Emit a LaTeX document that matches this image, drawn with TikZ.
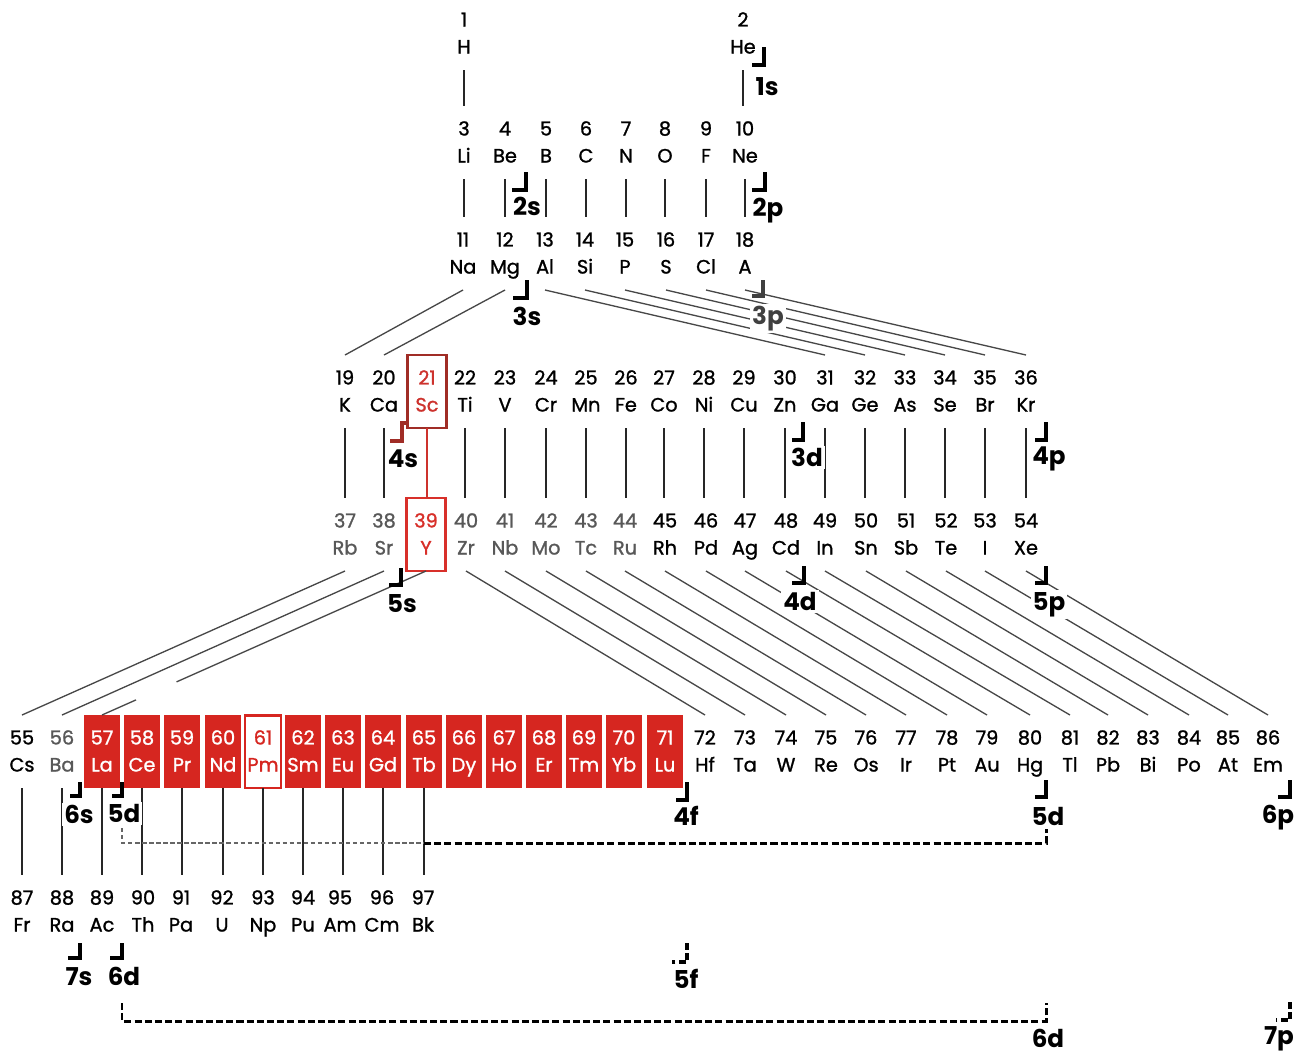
\documentclass[tikz,border=0pt]{standalone}
\usepackage{fontspec}
\setmainfont{Poppins}
\newfontfamily\elfam{Poppins}[FakeBold=1.2]
\usetikzlibrary{calc}

\definecolor{lanred}{RGB}{214,38,32}
\definecolor{scred}{RGB}{160,45,38}
\definecolor{sctext}{RGB}{205,50,45}
\definecolor{yred}{RGB}{216,48,42}
\definecolor{faded}{RGB}{88,88,88}

\newcommand\elfont{\elfam\fontsize{11}{13}\selectfont}
\newcommand\shfont{\fontsize{14}{16}\selectfont\bfseries}

\tikzset{
  elbox/.style={rectangle, minimum width=0.72cm, minimum height=1.46cm, inner sep=0pt, outer sep=0pt},
  lan/.style={elbox, fill=lanred},
  eltxt/.style={font=\elfont, inner sep=0pt, anchor=base},
  link/.style={line width=0.75pt, black!85},
  slant/.style={line width=0.75pt, black!72},
  shellmark/.style={line width=2pt, line cap=butt},
  shelltxt/.style={font=\shfont, inner sep=1.2pt, fill=white, anchor=base},
  finedots/.style={line width=1.3pt, black!60, dash pattern=on 2.5pt off 1.5pt},
  bolddash/.style={line width=1.7pt, dash pattern=on 4pt off 1.8pt},
}

% element: [box style]{Z}{x}{y of number}{symbol}{text style}
\newcommand\El[6][]{%
  \node[elbox,#1] (z#2) at (#3,#4+13.5) {};
  \node[eltxt,#6] (n#2) at (#3,#4+6.5) {#2};
  \node[eltxt,#6] (s#2) at (#3,#4+33.5) {#5};
}
% shell mark: [colour]{name}{x}{y top}{y bottom}{x left}{label}{label x}{label y}
\newcommand\Shell[9][black]{%
  \draw[shellmark,#1] (#3,#4) -- (#3,#5) -- (#6,#5);
  \node[shelltxt,text=#1] (#2) at (#8,#9+8.5) {#7};
}

\begin{document}
\begin{tikzpicture}[x=0.02cm, y=-0.02cm]
\fill[white] (0,0) rectangle (1306,1056);
\useasboundingbox (0,0) rectangle (1306,1056);

% ---- period 1
\foreach \z/\x/\s in {1/464/H, 2/743/He} {\El{\z}{\x}{20}{\s}{}}
% ---- period 2
\foreach \z/\x/\s in {3/464/Li, 4/505/Be, 5/546/B, 6/586/C, 7/626/N, 8/665/O, 9/706/F, 10/745/Ne}
  {\El{\z}{\x}{129}{\s}{}}
% ---- period 3
\foreach \z/\x/\s in {11/463/Na, 12/505/Mg, 13/545/Al, 14/585/Si, 15/625/P, 16/666/S, 17/706/Cl, 18/745/A}
  {\El{\z}{\x}{240}{\s}{}}
% ---- period 4
\foreach \z/\x/\s in {19/345/K, 20/384/Ca, 22/465/Ti, 23/505/V, 24/546/Cr, 25/586/Mn, 26/626/Fe,
  27/664/Co, 28/704/Ni, 29/744/Cu, 30/785/Zn, 31/825/Ga, 32/865/Ge, 33/905/As, 34/945/Se, 35/985/Br, 36/1026/Kr}
  {\El{\z}{\x}{378}{\s}{}}
\El[minimum width=0.78cm, draw=scred, line width=1.5pt]{21}{427}{378}{Sc}{text=sctext}
% ---- period 5
\foreach \z/\x/\s in {37/345/Rb, 38/384/Sr, 40/466/Zr, 41/505/Nb, 42/546/Mo, 43/586/Tc, 44/625/Ru}
  {\El{\z}{\x}{521}{\s}{text=faded}}
\foreach \z/\x/\s in {45/665/Rh, 46/706/Pd, 47/745/Ag, 48/786/Cd, 49/825/In, 50/866/Sn, 51/906/Sb,
  52/946/Te, 53/985/I, 54/1026/Xe}
  {\El{\z}{\x}{521}{\s}{}}
\El[minimum width=0.78cm, draw=yred, line width=1.5pt]{39}{426}{521}{Y}{text=yred}
% ---- period 6
\El{55}{22}{738}{Cs}{}
\El{56}{62}{738}{Ba}{text=faded}
\foreach \z/\x/\s in {57/102/La, 58/142/Ce, 59/182/Pr, 60/223/Nd, 62/303/Sm, 63/343/Eu, 64/383/Gd,
  65/424/Tb, 66/464/Dy, 67/504/Ho, 68/544/Er, 69/584/Tm, 70/624/Yb, 71/665/Lu}
  {\El[lan]{\z}{\x}{738}{\s}{text=white}}
\El[elbox, fill=white, draw=lanred, line width=1.7pt]{61}{263}{738}{Pm}{text=lanred}
\foreach \z/\x/\s in {72/705/Hf, 73/745/Ta, 74/786/W, 75/826/Re, 76/866/Os, 77/906/Ir, 78/947/Pt,
  79/987/Au, 80/1030/Hg, 81/1070/Tl, 82/1108/Pb, 83/1148/Bi, 84/1189/Po, 85/1228/At, 86/1268/Em}
  {\El{\z}{\x}{738}{\s}{}}
% ---- period 7
\foreach \z/\x/\s in {87/22/Fr, 88/62/Ra, 89/102/Ac, 90/143/Th, 91/181/Pa, 92/222/U, 93/263/Np,
  94/303/Pu, 95/340/Am, 96/382/Cm, 97/423/Bk}
  {\El{\z}{\x}{898}{\s}{}}

% ---- connectors
\draw[link] (z1.south) -- (z1.south |- z3.north);
\draw[link] (z2.south) -- (z2.south |- z10.north);
\foreach \z in {3,...,10} {
  \pgfmathtruncatemacro\w{\z+8}
  \draw[link] (z\z.south) -- (z\z.south |- z\w.north);
}
\draw[slant] (z11.south) -- (z19.north);
\draw[slant] (z12.south) -- (z20.north);
\foreach \z in {13,...,18} {
  \pgfmathtruncatemacro\w{\z+18}
  \draw[slant] (z\z.south) -- (z\w.north);
}
\foreach \z in {19,20,22,23,24,25,26,27,28,29,30,31,32,33,34,35,36} {
  \pgfmathtruncatemacro\w{\z+18}
  \draw[link] (z\z.south) -- (z\z.south |- z\w.north);
}
\draw[line width=0.75pt, sctext] (z21.south) -- (z21.south |- z39.north);
\draw[slant] (z37.south) -- (z55.north);
\draw[slant] (z38.south) -- (z56.north);
\draw[slant] (z39.south) -- ($(z39.south)!0.77!(z57.north)$);
\draw[slant] ($(z39.south)!0.895!(z57.north)$) -- (z57.north);
\foreach \z in {40,...,54} {
  \pgfmathtruncatemacro\w{\z+32}
  \draw[slant] (z\z.south) -- (z\w.north);
}
\foreach \z in {55,...,65} {
  \pgfmathtruncatemacro\w{\z+32}
  \draw[link] (z\z.south) -- (z\z.south |- z\w.north);
}

% ---- shell marks
\Shell{l1s}{764}{47}{65}{752}{1s}{767}{87}
\Shell{l2s}{526}{172}{190}{512}{2s}{527}{207}
\Shell{l2p}{765}{172}{190}{752}{2p}{768}{208}
\Shell{l3s}{527}{280}{298}{513}{3s}{527}{317}
\Shell[black!75]{l3p}{763}{280}{296}{752}{3p}{768}{316}
\draw[shellmark, scred] (408,423) -- (402,423) -- (402,441) -- (390,441);
\node[shelltxt] (l4s) at (403,459+8.5) {4s};
\Shell{l3d}{803}{422}{440}{792}{3d}{807}{458}
\Shell{l4p}{1046}{422}{440}{1035}{4p}{1049}{456}
\Shell{l5s}{401}{568}{585}{389}{5s}{402}{604}
\Shell{l4d}{804}{566}{583}{792}{4d}{800}{602}
\Shell{l5p}{1046}{566}{583}{1035}{5p}{1049}{602}
\Shell{l6s}{80}{782}{796}{70}{6s}{79}{815}
\Shell{l5d}{122}{782}{796}{112}{5d}{124}{814}
\Shell{l4f}{687}{782}{800}{676}{4f}{686}{817}
\Shell{l5dr}{1046}{780}{797}{1035}{5d}{1048}{817}
\Shell{l6p}{1290}{780}{797}{1278}{6p}{1278}{815}
\Shell{l7s}{80}{943}{958}{68}{7s}{79}{977}
\Shell{l6d}{122}{943}{958}{110}{6d}{124}{977}

% ---- dashed marks of the later-filled shells
\coordinate (d5a) at (122,828);
\coordinate (d5b) at (424,843);
\coordinate (d5c) at (1046,829);
\draw[finedots] (d5a) |- (d5b);
\draw[bolddash] (d5b) -| (d5c);
\draw[bolddash, line width=2pt] (687,943) -- (687,962) -- (672,962);
\node[shelltxt] (l5f) at (686,980+8.5) {5f};
\draw[bolddash] (122,1003) -- (122,1021) -- (1046,1021) -- (1046,1003);
\node[shelltxt] (l6dr) at (1048,1039+8.5) {6d};
\draw[bolddash, line width=2pt] (1290,1002) -- (1290,1020) -- (1276,1020);
\node[shelltxt] (l7p) at (1279,1036+8.5) {7p};
\end{tikzpicture}
\end{document}
